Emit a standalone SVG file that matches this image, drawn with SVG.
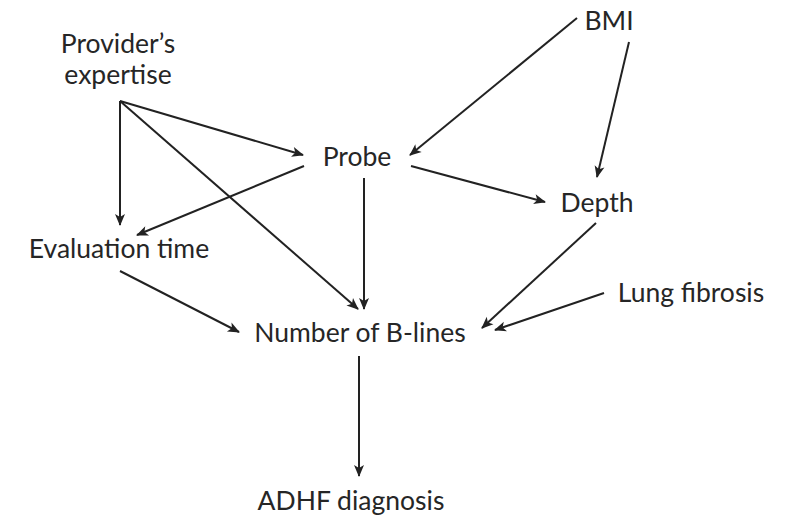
<svg xmlns="http://www.w3.org/2000/svg" width="792" height="516" viewBox="0 0 792 516">
<style>
text{font-family:Lato,"Open Sans","Liberation Sans",sans-serif;font-size:26.5px;fill:#262626;text-anchor:middle}
.e{stroke:#222;stroke-width:2;fill:none;marker-end:url(#ah)}
</style>
<defs>
<marker id="ah" markerUnits="userSpaceOnUse" markerWidth="16" markerHeight="16" viewBox="-13 -8 16 16" refX="0" refY="0" orient="auto">
<path d="M1,0 L-11,-5 L-8,0 L-11,5 Z" fill="#222"/>
</marker>
</defs>
<rect width="792" height="516" fill="#fff"/>
<g id="connectors">
<line class="e" x1="120" y1="101" x2="303" y2="155"/>
<line class="e" x1="120" y1="101" x2="120" y2="225"/>
<line class="e" x1="120" y1="101" x2="358" y2="309"/>
<line class="e" x1="304" y1="166" x2="137" y2="235"/>
<line class="e" x1="364" y1="178" x2="364" y2="309"/>
<line class="e" x1="577" y1="18" x2="410" y2="155"/>
<line class="e" x1="629" y1="42" x2="597" y2="177"/>
<line class="e" x1="411" y1="166" x2="545" y2="202"/>
<line class="e" x1="596" y1="223" x2="482" y2="328"/>
<line class="e" x1="604" y1="293" x2="495" y2="330"/>
<line class="e" x1="120" y1="271" x2="239" y2="332"/>
<line class="e" x1="359" y1="356" x2="359" y2="476"/>
</g>
<g id="provider"><text x="118" y="53">Provider’s</text><text x="118" y="84">expertise</text></g>
<g id="bmi"><text x="609" y="30">BMI</text></g>
<g id="probe"><text x="357" y="166">Probe</text></g>
<g id="depth"><text x="597" y="212">Depth</text></g>
<g id="evaltime"><text x="119" y="258">Evaluation time</text></g>
<g id="lungfibrosis"><text x="691" y="302">Lung fibrosis</text></g>
<g id="blines"><text x="360" y="342">Number of B-lines</text></g>
<g id="adhf"><text x="351" y="510">ADHF diagnosis</text></g>
</svg>
